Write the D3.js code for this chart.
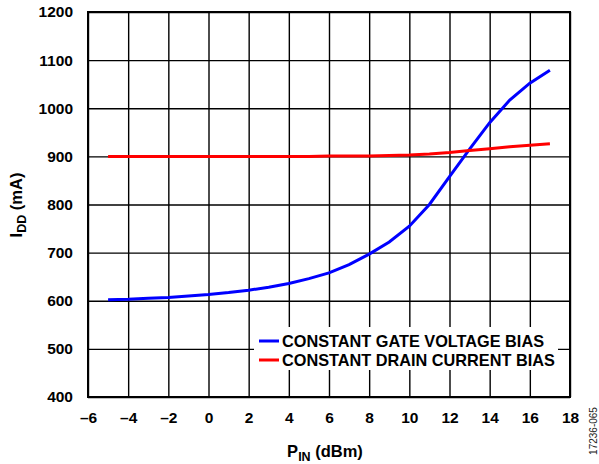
<!DOCTYPE html>
<html>
<head>
<meta charset="utf-8">
<script src="https://cdn.jsdelivr.net/npm/d3@7"></script>
<style>
  body { margin: 0; background: #fff; }
  text { font-family: Arial, "Liberation Sans", sans-serif; }
</style>
</head>
<body>
<div id="graph"></div>
<script>
// input power (dBm)
var pin = [-5, -4, -3, -2, -1, 0, 1, 2, 3, 4, 5, 6, 7, 8, 9, 10, 11, 12, 13, 14, 15, 16, 17];
// IDD (mA), constant gate voltage bias
var gateBias = [602, 603, 605, 607, 610, 613, 617, 622, 628, 636, 646, 658, 675, 697, 722, 755, 800, 858, 915, 970, 1017, 1052, 1079];
// IDD (mA), constant drain current bias
var drainBias = [900, 900, 900, 900, 900, 900, 900, 900, 900, 900, 900, 901, 901, 901, 902, 903, 905, 908, 912, 916, 920, 923, 926];

var xTicks = [-6, -4, -2, 0, 2, 4, 6, 8, 10, 12, 14, 16, 18];
var yTicks = [400, 500, 600, 700, 800, 900, 1000, 1100, 1200];
var seriesNames = ["CONSTANT GATE VOLTAGE BIAS", "CONSTANT DRAIN CURRENT BIAS"];
var seriesColors = ["#0000ff", "#ff0000"];

var width = 599,
    height = 464,
    plotL = 88, plotR = 570, plotT = 12, plotB = 397;

var chart = d3.select("#graph").append("svg")
    .attr("width", width)
    .attr("height", height);

var xScale = d3.scaleLinear().domain([-6, 18]).range([plotL, plotR]);
var yScale = d3.scaleLinear().domain([400, 1200]).range([plotB, plotT]);

function dash(d) { return d < 0 ? "\u2013" + (-d) : d; }

// x axis + vertical grid
var gx = chart.append("g")
    .attr("transform", "translate(0," + plotB + ")")
    .call(d3.axisBottom(xScale).tickValues(xTicks).tickSize(-(plotB - plotT)).tickPadding(15).tickFormat(dash));

// y axis + horizontal grid
var gy = chart.append("g")
    .attr("transform", "translate(" + plotL + ",0)")
    .call(d3.axisLeft(yScale).tickValues(yTicks).tickSize(-(plotR - plotL)).tickPadding(15).tickFormat(d3.format("d")));

[gx, gy].forEach(function(g) {
  g.select(".domain").remove();
  g.selectAll(".tick line").attr("stroke", "#000").attr("stroke-width", 1.4);
  g.selectAll(".tick text")
    .attr("fill", "#000")
    .attr("font-size", "15.5px")
    .attr("font-weight", "bold")
    .attr("font-family", "Arial, 'Liberation Sans', sans-serif");
});

// frame
chart.append("rect")
    .attr("x", plotL).attr("y", plotT)
    .attr("width", plotR - plotL).attr("height", plotB - plotT)
    .attr("fill", "none").attr("stroke", "#000").attr("stroke-width", 2);

// legend background (drawn before lines so curves stay on top)
chart.append("rect")
    .attr("x", 254).attr("y", 327)
    .attr("width", 304).attr("height", 43)
    .attr("fill", "#fff");

var line = d3.line()
    .x(function(d) { return xScale(d[0]); })
    .y(function(d) { return yScale(d[1]); });

[gateBias, drainBias].forEach(function(vals, i) {
  chart.append("path")
    .datum(pin.map(function(p, j) { return [p, vals[j]]; }))
    .attr("d", line)
    .attr("fill", "none")
    .attr("stroke", seriesColors[i])
    .attr("stroke-width", 3);
});

// legend
var legend = chart.append("g").attr("transform", "translate(259,341)");
seriesNames.forEach(function(name, i) {
  legend.append("line")
    .attr("x1", 0).attr("x2", 20)
    .attr("y1", i * 19).attr("y2", i * 19)
    .attr("stroke", seriesColors[i]).attr("stroke-width", 3);
  legend.append("text")
    .attr("x", 23).attr("y", i * 19 + 5.5)
    .attr("font-size", "16.3px").attr("font-weight", "bold")
    .text(name);
});

// axis titles
var xt = chart.append("text")
    .attr("x", 325).attr("y", 457)
    .attr("text-anchor", "middle")
    .attr("font-size", "16.5px").attr("font-weight", "bold");
xt.append("tspan").text("P");
xt.append("tspan").attr("font-size", "12.5px").attr("dy", 4).text("IN");
xt.append("tspan").attr("dy", -4).text(" (dBm)");

var yt = chart.append("text")
    .attr("transform", "translate(22,205) rotate(-90)")
    .attr("text-anchor", "middle")
    .attr("font-size", "16.5px").attr("font-weight", "bold");
yt.append("tspan").text("I");
yt.append("tspan").attr("font-size", "12.5px").attr("dy", 4).text("DD");
yt.append("tspan").attr("dy", -4).text(" (mA)");

// figure id
chart.append("text")
    .attr("transform", "translate(597,431) rotate(-90)")
    .attr("text-anchor", "middle")
    .attr("font-size", "10px")
    .attr("fill", "#222")
    .text("17236-065");
</script>
</body>
</html>
